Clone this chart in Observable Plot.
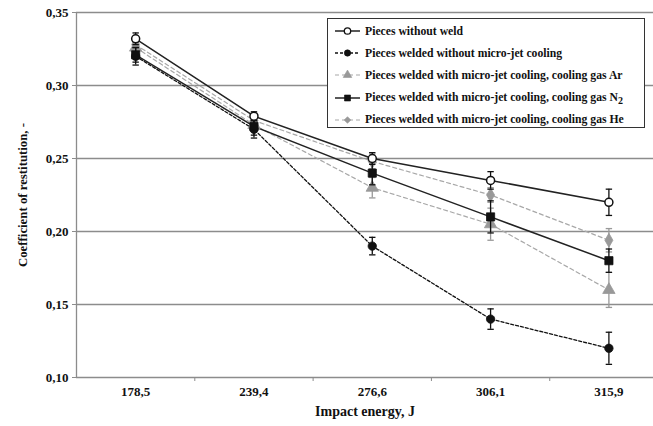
<!DOCTYPE html>
<html>
<head>
<meta charset="utf-8">
<script src="https://cdn.jsdelivr.net/npm/d3@7"></script>
<script src="https://cdn.jsdelivr.net/npm/@observablehq/plot@0.6"></script>
<style>
  html, body { margin: 0; padding: 0; background: #fff; }
  #wrap { position: relative; width: 653px; height: 426px; font-family: "Liberation Serif", "Times New Roman", serif; }
  #legend { position: absolute; left: 327px; top: 18px; width: 318px; height: 110px; border: 1.3px solid #333; background: #fff; box-sizing: border-box; padding-top: 1px; }
  .row { display: flex; align-items: center; height: 22.2px; font-weight: bold; font-size: 11.7px; color: #111; white-space: nowrap; }
  .row svg { margin-left: 6px; margin-right: 4px; flex: none; }
  sub { font-size: 10px; vertical-align: -3px; line-height: 0; }
</style>
</head>
<body>
<div id="wrap"><div id="chart"></div><div id="legend"></div></div>
<script>
const energies = ["178,5", "239,4", "276,6", "306,1", "315,9"];
const seriesNames = [
  "Pieces without weld",
  "Pieces welded without micro-jet cooling",
  "Pieces welded with micro-jet cooling, cooling gas Ar",
  "Pieces welded with micro-jet cooling, cooling gas N2",
  "Pieces welded with micro-jet cooling, cooling gas He"
];
const withoutWeld    = [0.332, 0.279, 0.250, 0.235, 0.220];
const withoutWeldErr = [0.004, 0.003, 0.004, 0.006, 0.009];
const noCooling      = [0.320, 0.270, 0.190, 0.140, 0.120];
const noCoolingErr   = [0.006, 0.006, 0.006, 0.007, 0.011];
const coolingAr      = [0.326, 0.273, 0.230, 0.205, 0.160];
const coolingArErr   = [0.004, 0.004, 0.007, 0.011, 0.012];
const coolingN2      = [0.321, 0.272, 0.240, 0.210, 0.180];
const coolingN2Err   = [0.005, 0.006, 0.008, 0.011, 0.008];
const coolingHe      = [0.328, 0.276, 0.248, 0.225, 0.194];
const coolingHeErr   = [0.004, 0.004, 0.005, 0.005, 0.008];
const yTicks = [0.10, 0.15, 0.20, 0.25, 0.30, 0.35];

const styles = [
  {stroke: "#222", dash: null, symbol: "circle", fill: "#fff", r: 4, sw: 1.5, mstroke: "#111", lr: 3.2},
  {stroke: "#111", dash: "3,2", symbol: "circle", fill: "#111", r: 4.2, sw: 1.3, mstroke: "#111", lr: 3.2},
  {stroke: "#a8a8a8", dash: "4,3", symbol: "triangle", fill: "#999", r: 4.6, sw: 1.2, mstroke: "#999", lr: 3.2},
  {stroke: "#222", dash: null, symbol: "square", fill: "#111", r: 4.6, sw: 1.5, mstroke: "#111", lr: 3.4},
  {stroke: "#a8a8a8", dash: "4,3", symbol: "diamond", fill: "#999", r: 4.2, sw: 1.2, mstroke: "#999", lr: 3.0}
];
const values = [withoutWeld, noCooling, coolingAr, coolingN2, coolingHe];
const errs = [withoutWeldErr, noCoolingErr, coolingArErr, coolingN2Err, coolingHeErr];

const capSymbol = {draw(ctx, size) { const w = Math.sqrt(size / Math.PI); ctx.moveTo(-w, 0); ctx.lineTo(w, 0); }};

const tables = values.map((vals, s) => vals.map((v, i) => ({i, v, e: errs[s][i], s})));

const marks = [
  Plot.ruleY(yTicks.slice(1), {stroke: "#8c8c8c", strokeWidth: 1.3}),
  Plot.ruleY([0.10], {stroke: "#8c8c8c", strokeWidth: 1.3}),
  Plot.ruleX([-0.5], {stroke: "#8c8c8c", strokeWidth: 1.3}),
  Plot.axisY({ticks: yTicks, tickFormat: d => d.toFixed(2).replace(".", ","), tickSize: 4, tickPadding: 4, label: null, stroke: "#8c8c8c"}),
  Plot.axisX({ticks: [0, 1, 2, 3, 4], tickSize: 0, tickPadding: 9, tickFormat: i => energies[i], label: null}),
  Plot.axisX({ticks: [0.5, 1.5, 2.5, 3.5], tickSize: 4, tickFormat: () => "", label: null, stroke: "#8c8c8c"}),
  Plot.text(["Coefficient of restitution, -"], {frameAnchor: "left", rotate: -90, dx: -54, dy: 0, fontSize: 12.8, fontWeight: "bold", textAnchor: "middle"}),
  Plot.text(["Impact energy, J"], {frameAnchor: "bottom", dy: 38, fontSize: 14, fontWeight: "bold", textAnchor: "middle"})
];
[2, 4, 1, 3, 0].forEach(s => {
  const st = styles[s];
  marks.push(Plot.lineY(tables[s], {x: "i", y: "v", stroke: st.stroke, strokeWidth: st.sw, strokeDasharray: st.dash}));
});
[2, 4, 1, 3, 0].forEach(s => {
  const st = styles[s];
  const t = tables[s];
  marks.push(Plot.ruleX(t, {x: "i", y1: d => d.v - d.e, y2: d => d.v + d.e, stroke: st.mstroke, strokeWidth: 1.3}));
  marks.push(Plot.dot(t, {x: "i", y: d => d.v - d.e, symbol: capSymbol, r: 3.2, stroke: st.mstroke, strokeWidth: 1.3}));
  marks.push(Plot.dot(t, {x: "i", y: d => d.v + d.e, symbol: capSymbol, r: 3.2, stroke: st.mstroke, strokeWidth: 1.3}));
  marks.push(Plot.dot(t, {x: "i", y: "v", symbol: st.symbol, r: st.r, fill: st.fill, stroke: st.mstroke, strokeWidth: s === 0 ? 1.5 : 0.8}));
});

const chart = Plot.plot({
  width: 653,
  height: 426,
  marginTop: 12,
  marginBottom: 49,
  marginLeft: 76,
  marginRight: 0,
  style: {fontFamily: "'Liberation Serif', 'Times New Roman', serif", fontWeight: "bold", fontSize: "13px", color: "#111", background: "#fff"},
  x: {type: "linear", domain: [-0.5, 4.377], axis: null},
  y: {type: "linear", domain: [0.10, 0.35], axis: null},
  marks
});
document.getElementById("chart").appendChild(chart);

// legend
const legend = d3.select("#legend");
seriesNames.forEach((name, s) => {
  const st = styles[s];
  const row = legend.append("div").attr("class", "row");
  const svg = row.append("svg").attr("width", 27).attr("height", 12);
  svg.append("line").attr("x1", 1).attr("x2", 26).attr("y1", 6).attr("y2", 6)
    .attr("stroke", st.stroke).attr("stroke-width", st.sw).attr("stroke-dasharray", st.dash);
  const symType = {circle: d3.symbolCircle, triangle: d3.symbolTriangle, square: d3.symbolSquare, diamond: d3.symbolDiamond2}[st.symbol];
  svg.append("path").attr("transform", "translate(13.5,6)")
    .attr("d", d3.symbol(symType, st.lr * st.lr * Math.PI)())
    .attr("fill", st.fill).attr("stroke", st.mstroke).attr("stroke-width", s === 0 ? 1.3 : 0.6);
  const span = row.append("span");
  if (name.endsWith("N2")) {
    span.text(name.slice(0, -1));
    span.append("sub").text("2");
  } else span.text(name);
});
</script>
</body>
</html>
